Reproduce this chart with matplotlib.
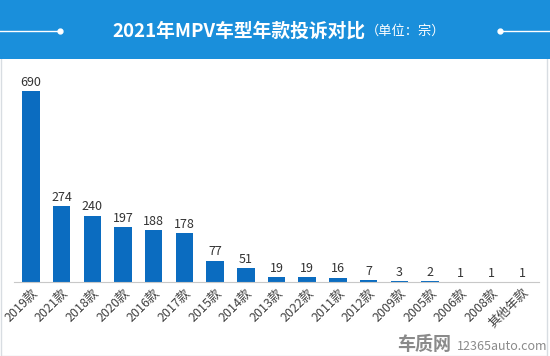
import matplotlib
matplotlib.use("Agg")
import matplotlib.pyplot as plt
from matplotlib.patches import Rectangle
from matplotlib.lines import Line2D

plt.rcParams['font.family'] = ['Noto Sans CJK SC', 'DejaVu Sans']

categories = ["2019款", "2021款", "2018款", "2020款", "2016款", "2017款", "2015款", "2014款",
              "2013款", "2022款", "2011款", "2012款", "2009款", "2005款", "2006款", "2008款", "其他年款"]
values = [690, 274, 240, 197, 188, 178, 77, 51, 19, 19, 16, 7, 3, 2, 1, 1, 1]

W, H = 550, 356
fig = plt.figure(figsize=(W / 100, H / 100), dpi=100)
fig.patch.set_facecolor("white")

# outer border
fig.patches.append(Rectangle((0.5 / W, 0.5 / H), (W - 4) / W, 1 - 1 / H, transform=fig.transFigure,
                             facecolor="none", edgecolor="#d8dde2", lw=1, zorder=0))

# header banner
fig.patches.append(Rectangle((0, 1 - 59 / H), 1, 59 / H, transform=fig.transFigure,
                             facecolor="#1a8fdb", edgecolor="none", zorder=1))
yb = 1 - 31 / H
fig.lines.append(Line2D([0, 60 / W], [yb, yb], transform=fig.transFigure, color="white", lw=1, zorder=2))
fig.lines.append(Line2D([500 / W, 1], [yb, yb], transform=fig.transFigure, color="white", lw=1, zorder=2))
fig.lines.append(Line2D([60 / W], [yb], transform=fig.transFigure, color="white", marker="o", ms=3.5, lw=0, zorder=2))
fig.lines.append(Line2D([500 / W], [yb], transform=fig.transFigure, color="white", marker="o", ms=3.5, lw=0, zorder=2))
fig.text(366 / W, yb, "2021年MPV车型年款投诉对比", color="white", fontsize=13.5, fontweight="bold",
         ha="right", va="center", zorder=3)
fig.text(366 / W, yb - 0.002, "（单位：宗）", color="white", fontsize=9.5, ha="left", va="center", zorder=3)

ax = fig.add_axes([14 / W, 1 - 282 / H, (539 - 14) / W, (282 - 60) / H])
x = list(range(len(categories)))
ax.bar(x, values, width=0.57, color="#0b6cc0")
ax.set_xlim(-0.55, len(categories) - 0.45)
ax.set_ylim(0, 690 * 222 / 191)
for xi, v in zip(x, values):
    ax.text(xi, v + 8, str(v), ha="center", va="bottom", fontsize=9, color="#333333")
ax.set_xticks(x)
ax.set_xticklabels(categories, rotation=45, ha="right", va="top", rotation_mode="anchor",
                   fontsize=9, color="#404040")
ax.tick_params(axis="x", length=0, pad=3)
ax.set_yticks([])
for s in ["top", "left", "right"]:
    ax.spines[s].set_visible(False)
ax.spines["bottom"].set_color("#c8c8c8")
ax.set_facecolor("none")

# watermark
fig.text(451 / W, 1 - 344 / H, "车质网", color="#8a8a8a", fontsize=13, fontweight="bold",
         ha="right", va="center")
fig.text(457 / W, 1 - 347 / H, "12365auto.com", color="#8a8a8a", fontsize=9,
         ha="left", va="center")

fig.savefig("out.png", dpi=100)
